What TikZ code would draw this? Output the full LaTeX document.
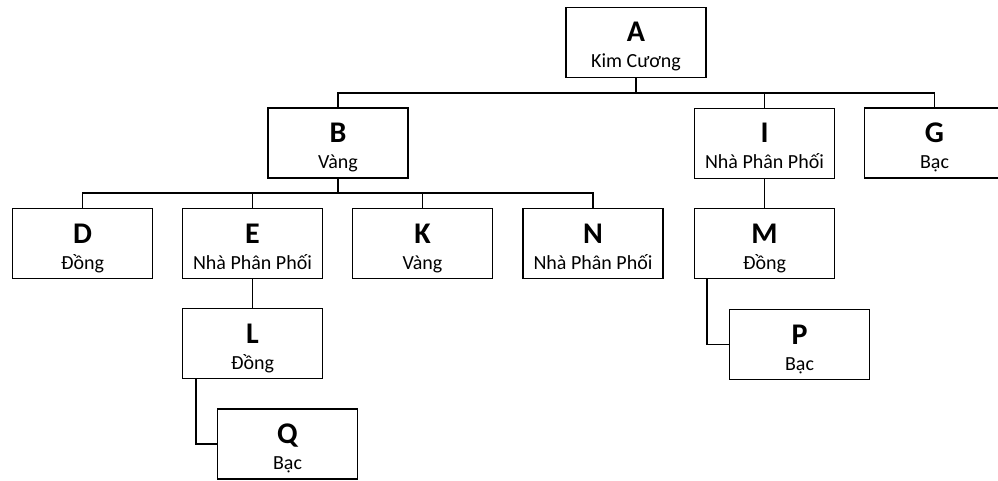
\documentclass[tikz,border=0pt]{standalone}
\usepackage{fontspec}
\setmainfont{Carlito}
\begin{document}
\begin{tikzpicture}[x=1pt,y=-1pt,
  box/.style={draw, line width=1.8pt, minimum width=140pt, minimum height=70pt, inner sep=0pt},
  big/.style={anchor=base, inner sep=0pt, font=\fontsize{30}{30}\selectfont\bfseries},
  small/.style={anchor=base, inner sep=0pt, font=\fontsize{20}{22}\selectfont},
  conn/.style={line width=1.5pt}]
\useasboundingbox (0,0) rectangle (998,481);
\newcommand{\bx}[4]{%
  \node[box] (#1) at (#2) {};
  \node[big] (#1-l) at ([yshift=0.5pt]#1.center) {#3};
  \node[small] (#1-s) at ([yshift=-25.5pt]#1.center) {#4};}
\bx{A}{636,42.5}{A}{Kim Cương}
\bx{B}{338,143}{B}{Vàng}
\bx{I}{764.5,143.5}{I}{Nhà Phân Phối}
\bx{G}{934.5,143}{G}{Bạc}
\bx{D}{82.5,243.5}{D}{Đồng}
\bx{E}{252.5,243.5}{E}{Nhà Phân Phối}
\bx{K}{422.5,243.5}{K}{Vàng}
\bx{N}{593,243.5}{N}{Nhà Phân Phối}
\bx{M}{764.5,243.5}{M}{Đồng}
\bx{L}{252.5,343.5}{L}{Đồng}
\bx{P}{799.5,344.5}{P}{Bạc}
\bx{Q}{287.5,444}{Q}{Bạc}
\coordinate (bus1) at (636,93);
\coordinate (bus2) at (338,193);
\draw[conn] (A.south) -- (bus1);
\draw[conn] (B.north) |- (bus1) -| (G.north);
\draw[conn] (I.north) -- (I.north |- bus1);
\draw[conn] (B.south) -- (bus2);
\draw[conn] (D.north) |- (bus2) -| (N.north);
\draw[conn] (E.north) -- (E.north |- bus2);
\draw[conn] (K.north) -- (K.north |- bus2);
\draw[conn] (I.south) -- (M.north);
\draw[conn] (E.south) -- (L.north);
\draw[conn] ([xshift=-56.5pt]L.south) |- (Q.west);
\draw[conn] ([xshift=-57.5pt]M.south) |- (P.west);
\end{tikzpicture}
\end{document}
